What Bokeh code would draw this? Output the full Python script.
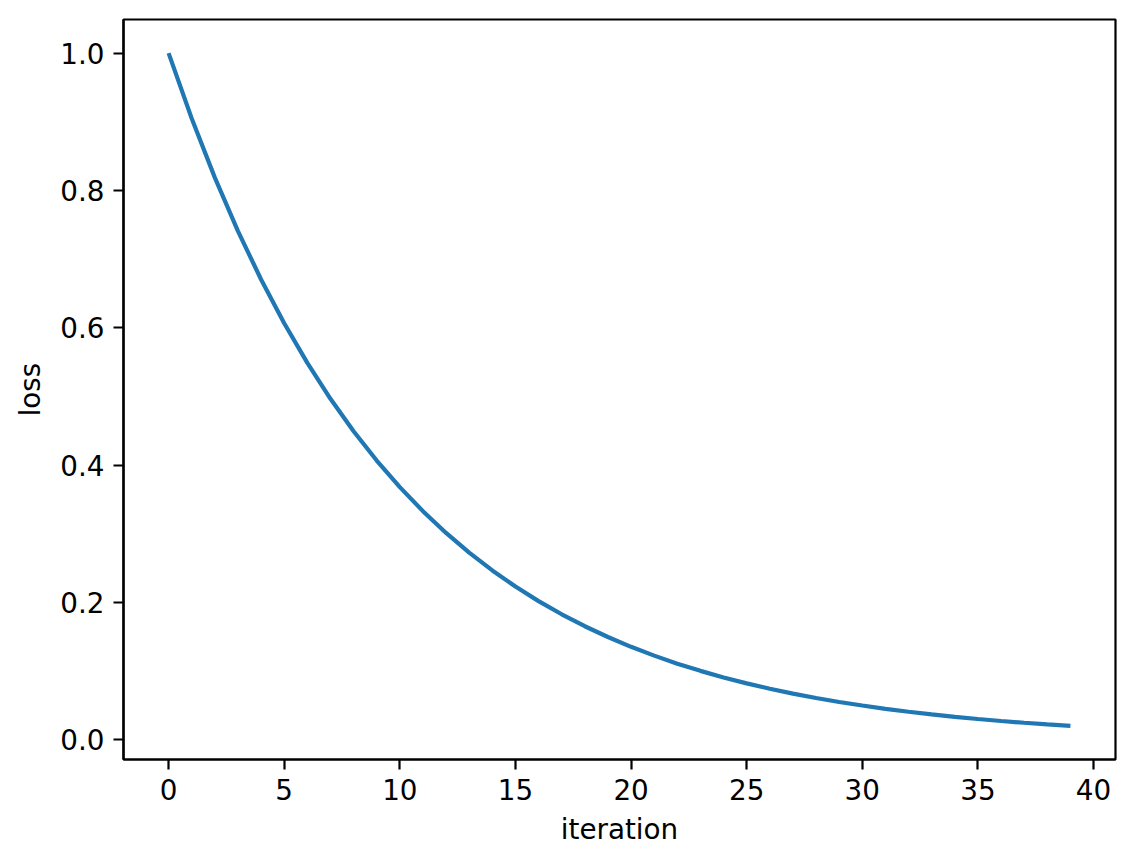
from bokeh.plotting import figure
from bokeh.models import Range1d, FixedTicker
from bokeh.embed import file_html
from bokeh.resources import INLINE

iterations = list(range(40))
loss = [1.0, 0.9048, 0.8187, 0.7408, 0.6703, 0.6065, 0.5488, 0.4966, 0.4493, 0.4066,
        0.3679, 0.3329, 0.3012, 0.2725, 0.2466, 0.2231, 0.2019, 0.1827, 0.1653, 0.1496,
        0.1353, 0.1225, 0.1108, 0.1003, 0.0907, 0.0821, 0.0743, 0.0672, 0.0608, 0.0550,
        0.0498, 0.0450, 0.0408, 0.0369, 0.0334, 0.0302, 0.0273, 0.0247, 0.0224, 0.0202]
x_ticks = [0, 5, 10, 15, 20, 25, 30, 35, 40]
y_ticks = [0.0, 0.2, 0.4, 0.6, 0.8, 1.0]
y_tick_labels = {0.0: "0.0", 0.2: "0.2", 0.4: "0.4", 0.6: "0.6", 0.8: "0.8", 1.0: "1.0"}

xpad = (max(iterations) - min(iterations)) * 0.05
ypad = (max(loss) - min(loss)) * 0.05

p = figure(width=1120, height=850, output_backend="svg", toolbar_location=None,
           x_range=Range1d(min(iterations) - xpad, max(iterations) + xpad),
           y_range=Range1d(min(loss) - ypad, max(loss) + ypad),
           min_border_left=123, min_border_right=5, min_border_top=19, min_border_bottom=91)

p.line(iterations, loss, line_color="#1f77b4", line_width=4.2)

p.grid.visible = False
p.outline_line_color = "black"
p.outline_line_width = 2.2
p.background_fill_color = "white"
p.border_fill_color = "white"

p.xaxis.ticker = FixedTicker(ticks=x_ticks)
p.yaxis.ticker = FixedTicker(ticks=y_ticks)
p.yaxis.major_label_overrides = y_tick_labels
p.xaxis.axis_label = "iteration"
p.yaxis.axis_label = "loss"

for ax in (p.xaxis, p.yaxis):
    ax.axis_line_color = "black"
    ax.axis_line_width = 2.2
    ax.major_tick_line_color = "black"
    ax.major_tick_line_width = 2.2
    ax.major_tick_out = 10
    ax.major_tick_in = 0
    ax.minor_tick_line_color = None
    ax.major_label_standoff = 9
    ax.major_label_text_font = "DejaVu Sans"
    ax.major_label_text_font_size = "27.8px"
    ax.major_label_text_color = "black"
    ax.axis_label_text_font = "DejaVu Sans"
    ax.axis_label_text_font_size = "27.8px"
    ax.axis_label_text_font_style = "normal"
    ax.axis_label_text_color = "black"
    ax.axis_label_standoff = 10

open("out.html", "w").write(file_html(p, INLINE))
